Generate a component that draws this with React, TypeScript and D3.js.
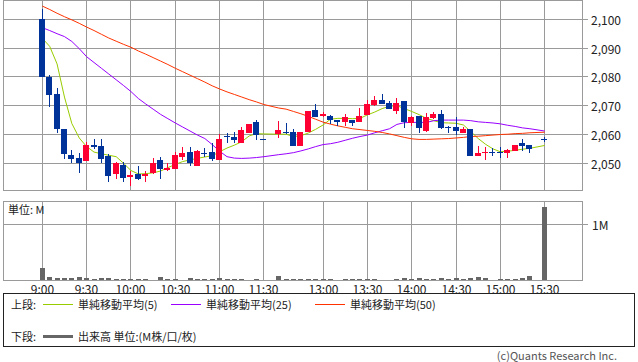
import React from "react";
import * as d3 from "d3";

// ---- data (5-minute candles) ----
const candleTimes = [
  "9:00","9:05","9:10","9:15","9:20","9:25","9:30","9:35","9:40","9:45","9:50","9:55",
  "10:00","10:05","10:10","10:15","10:20","10:25","10:30","10:35","10:40","10:45","10:50","10:55",
  "11:00","11:05","11:10","11:15","11:20","11:25","11:30",
  "12:30","12:35","12:40","12:45","12:50","12:55",
  "13:00","13:05","13:10","13:15","13:20","13:25","13:30","13:35","13:40","13:45","13:50","13:55",
  "14:00","14:05","14:10","14:15","14:20","14:25","14:30","14:35","14:40","14:45","14:50","14:55",
  "15:00","15:05","15:10","15:15","15:20","15:30",
];

const opens = [
  2100,2080,2074.1,2061.9,2052.9,2051.7,2050.9,2056.4,2056,2052.6,2046.4,2049.5,
  2045.3,2046.3,2045.5,2046.6,2051,2047.6,2048,2052.3,2053.9,2049.2,2053.5,2053.9,
  2051.3,2059.6,2059.1,2057.2,2060.6,2064.3,2058.4,
  2060.1,2060.8,2060.8,2056.1,2060.9,2068.5,
  2066.3,2066.4,2065,2064.4,2065,2064.4,2066.8,2070.3,2072,2070.8,2068.2,2071.6,
  2064.1,2066.4,2061.3,2065.8,2067.2,2062.5,2062.5,2060.6,2061.8,2052.6,2053.5,2054,
  2054,2053.7,2054.4,2057.2,2056.2,2058.4,
];
const highs = [
  2103.5,2080.5,2076.3,2061.9,2054.6,2053.5,2057.5,2058.3,2058.3,2053.1,2050.5,2050.6,
  2047.3,2049.2,2047.2,2051.8,2052.3,2050,2053.8,2055.8,2055.7,2054.5,2055.4,2057.2,
  2060.1,2060.6,2060.9,2062.7,2063.8,2064.9,2058.6,
  2064.7,2063.9,2061.8,2060.9,2068.3,2070.6,
  2067.9,2066.6,2065,2067,2065.2,2069.3,2072,2073.3,2074.1,2071.5,2072.6,2071.6,
  2066.5,2066.5,2067.4,2067.8,2068.5,2063,2066,2062.5,2061.8,2056,2055.8,2055.4,
  2055.5,2054.8,2056.2,2058.5,2056.2,2059.2,
];
const lows = [
  2080,2069.7,2060.6,2051.4,2050,2046.7,2050.9,2055,2050,2043.6,2044.7,2043.5,
  2042.2,2044.2,2043.6,2046.3,2044.5,2047.3,2048,2051.1,2049.1,2049,2052.1,2050.9,
  2051,2057,2057,2057,2060.5,2058.1,2058,
  2058.9,2060.1,2056,2056,2060.8,2066,
  2066,2063.5,2063,2063,2063,2064.3,2066.7,2070,2070.6,2068.8,2067.1,2062.4,
  2063,2060.6,2061,2065.5,2061.8,2060.6,2059.8,2060.5,2052.4,2052.5,2051.1,2052.5,
  2051.7,2051.7,2054.4,2054.4,2053.5,2057.5,
];
const closes = [
  2080,2073.7,2061.8,2053.3,2051.4,2050.2,2056.4,2055.8,2051.6,2045.7,2050.2,2044.8,
  2046,2044.6,2046.4,2050,2048.1,2048.4,2052.8,2053.6,2050,2054.4,2053.5,2051.5,
  2058.4,2059.5,2058,2061.6,2063.7,2060,2058.4,
  2061.6,2060.7,2056.1,2060.9,2068.2,2066.2,
  2067.1,2065,2064.3,2066,2063.9,2066.5,2070.5,2072.1,2070.6,2069,2071,2064.2,
  2066.1,2062.4,2066,2067.2,2062.4,2062.5,2061.3,2062,2052.6,2053.7,2054,2053.6,
  2053.6,2054.6,2056.2,2056.1,2055,2058.4,
];

// volume, in millions
const volumes = [
  0.214,0.054,0.036,0.036,0.036,0.054,0.036,0.024,0.036,0.036,0.018,0.018,
  0.018,0.018,0.018,0.006,0.054,0.018,0.018,0.006,0.036,0.018,0.018,0.018,
  0.036,0.018,0.018,0.018,0.006,0.018,0.006,
  0.071,0.024,0.018,0.018,0.018,0.012,
  0.012,0.018,0.006,0.018,0.018,0.018,0.018,0.018,0.006,0.006,0.024,0.036,
  0.018,0.03,0.018,0.018,0.03,0.018,0.03,0.018,0.036,0.054,0.036,0.006,
  0.018,0.018,0.018,0.036,0.071,1.31,
];

// moving averages
const ma5 = [
  2093.4,2090.6,2084.5,2073.0,2063.8,2058.8,2055.8,2053.9,2053.3,2052.8,2052.3,2050.0,
  2047.5,2046.3,2046.4,2046.7,2047.3,2048.5,2049.6,2050.6,2051.2,2051.7,2052.2,2052.6,
  2054.0,2055.3,2056.3,2057.5,2059.5,2060.3,2060.2,
  2060.1,2060.1,2059.3,2059.6,2060.5,2061.8,
  2063.3,2065.3,2065.6,2065.6,2065.5,2065.6,2066.8,2067.8,2069.0,2069.8,2070.0,2069.0,
  2068.0,2066.9,2065.6,2064.8,2064.1,2064.0,2063.9,2063.3,2061.0,2058.6,2056.6,2055.0,
  2054.0,2054.2,2054.5,2054.9,2055.2,2056.2,
];
const ma25 = [
  2097.1,2096.1,2095.0,2094.0,2092.3,2089.8,2087.0,2085.0,2083.0,2081.0,2079.0,2077.0,
  2074.9,2072.5,2070.6,2068.8,2067.0,2065.5,2064.0,2062.6,2061.2,2059.8,2058.6,2056.5,
  2054.2,2052.3,2051.8,2051.7,2051.8,2052.0,2052.3,
  2053.0,2053.3,2053.7,2054.3,2055.0,2055.8,
  2056.5,2056.8,2057.3,2058.0,2058.7,2059.3,2059.8,2060.6,2061.3,2062.0,2063.5,2064.1,
  2064.2,2064.2,2064.2,2064.8,2065.0,2065.0,2065.0,2065.0,2064.8,2064.4,2064.2,2064.0,
  2063.7,2063.2,2062.8,2062.3,2062.0,2061.2,
];
const ma50 = [
  2104.6,2103.4,2102.1,2100.9,2099.8,2098.6,2097.3,2096.1,2094.8,2093.5,2092.4,2091.3,
  2090.3,2089.0,2087.9,2086.7,2085.5,2084.3,2083.0,2081.8,2080.6,2079.4,2078.2,2076.9,
  2075.8,2074.8,2073.9,2073.0,2072.1,2071.3,2070.4,
  2069.2,2068.8,2068.0,2067.2,2066.3,2065.3,
  2064.3,2063.6,2063.0,2062.5,2062.0,2061.7,2061.4,2061.1,2060.7,2060.2,2059.6,2059.0,
  2058.5,2058.3,2058.3,2058.4,2058.5,2058.6,2058.8,2059.0,2059.3,2059.4,2059.6,2059.8,
  2060.0,2060.1,2060.3,2060.4,2060.6,2060.8,
];

const timeTicks = ["9:00","9:30","10:00","10:30","11:00","11:30","13:00","13:30","14:00","14:30","15:00","15:30"];
const priceTicks = [2050, 2060, 2070, 2080, 2090, 2100];
const volumeTicks = [1];

const maSeries = [
  { name: "単純移動平均(5)", values: ma5, color: "#99cc00" },
  { name: "単純移動平均(25)", values: ma25, color: "#9900ff" },
  { name: "単純移動平均(50)", values: ma50, color: "#ff3300" },
];

// ---- category axis of 5-minute slots (with lunch gap) ----
const fmtTime = (m: number) => `${Math.floor(m / 60)}:${String(m % 60).padStart(2, "0")}`;
const slots: string[] = [];
for (let m = 540; m <= 690; m += 5) slots.push(fmtTime(m));
slots.push("lunch");
for (let m = 750; m <= 930; m += 5) slots.push(fmtTime(m));

const FONT = "'Noto Sans CJK JP', 'Noto Sans', sans-serif";
const GRID = "#9a9a9a";
const UP = "#ff0033";
const DOWN = "#003399";

export default function App() {
  const W = 638, H = 362;
  const left = 3.5, right = 582.5;
  const topY0 = 0.5, topY1 = 190.5;
  const volY0 = 201.5, volY1 = 280.5;

  const x = d3.scalePoint<string>().domain(slots).range([42.3, 544.7]);
  const y = d3.scaleLinear().domain([2050, 2100]).range([163.3, 19.3]);
  const yv = d3.scaleLinear().domain([0, 1]).range([280, 224]);
  const fmtPrice = d3.format(",");
  const px = (t: string) => Math.floor(x(t) as number);

  const line = d3
    .line<number>()
    .x((_, i) => x(candleTimes[i]) as number)
    .y((v) => y(v));

  return (
    <svg
      width={W}
      height={H}
      style={{ position: "absolute", left: 0, top: 0, background: "#fff" }}
      fontFamily={FONT}
    >
      <rect x={0} y={0} width={W} height={H} fill="#fff" />
      {/* ---- price panel ---- */}
      <g shapeRendering="crispEdges">
        {timeTicks.map((t) => (
          <line key={"vg" + t} x1={px(t) + 0.5} x2={px(t) + 0.5} y1={topY0} y2={topY1} stroke={GRID} />
        ))}
        {priceTicks.map((p) => {
          const yy = Math.floor(y(p)) + 0.5;
          return <line key={"hg" + p} x1={left} x2={right + 5} y1={yy} y2={yy} stroke={GRID} />;
        })}
        <rect x={left} y={topY0} width={right - left} height={topY1 - topY0} fill="none" stroke={GRID} />
      </g>
      {priceTicks.map((p) => (
        <text key={"pl" + p} x={591} y={Math.floor(y(p)) + 0.5} dominantBaseline="central" fontSize={12} fill="#222">
          {fmtPrice(p)}
        </text>
      ))}

      {/* moving averages */}
      {maSeries.map((s) => (
        <path key={s.name} d={line(s.values) || ""} fill="none" stroke={s.color} strokeWidth={1} />
      ))}

      {/* candles */}
      <g shapeRendering="crispEdges">
        {candleTimes.map((t, i) => {
          const o = opens[i], c = closes[i];
          const color = c > o ? UP : DOWN;
          const cx = px(t);
          const yt = Math.round(y(Math.max(o, c)));
          const yb = Math.round(y(Math.min(o, c)));
          return (
            <g key={"c" + t}>
              <line x1={cx + 0.5} x2={cx + 0.5} y1={Math.round(y(highs[i]))} y2={Math.round(y(lows[i]))} stroke={color} />
              <rect x={cx - 3} y={yt} width={6} height={Math.max(1, yb - yt)} fill={color} />
            </g>
          );
        })}
      </g>

      {/* ---- volume panel ---- */}
      <g shapeRendering="crispEdges">
        {timeTicks.map((t) => (
          <line key={"vvg" + t} x1={px(t) + 0.5} x2={px(t) + 0.5} y1={volY0} y2={volY1} stroke={GRID} />
        ))}
        {volumeTicks.map((v) => (
          <line key={"vhg" + v} x1={left} x2={right + 5} y1={Math.floor(yv(v)) + 0.5} y2={Math.floor(yv(v)) + 0.5} stroke={GRID} />
        ))}
        {candleTimes.map((t, i) => {
          const top = Math.round(yv(volumes[i]));
          return <rect key={"v" + t} x={px(t) - 2} y={top} width={5} height={Math.max(0, 280 - top)} fill="#666" />;
        })}
        <rect x={left} y={volY0} width={right - left} height={volY1 - volY0} fill="none" stroke={GRID} />
      </g>
      {volumeTicks.map((v) => (
        <text key={"vl" + v} x={592} y={Math.floor(yv(v)) + 0.5} dominantBaseline="central" fontSize={12} fill="#222">
          {v}M
        </text>
      ))}
      <text x={8} y={209} dominantBaseline="central" fontSize={11} fill="#222">単位: M</text>

      {/* time labels */}
      {timeTicks.map((t) => (
        <text key={"tl" + t} x={px(t) + 0.5} y={288} textAnchor="middle" dominantBaseline="central" fontSize={12} fill="#222">
          {t}
        </text>
      ))}

      {/* ---- legend ---- */}
      <rect x={3.5} y={293.5} width={631} height={53} fill="none" stroke="#222" shapeRendering="crispEdges" />
      <text x={11} y={304} dominantBaseline="central" fontSize={11} fill="#222">上段:</text>
      {maSeries.map((s, i) => {
        const lx = [43, 171, 315][i];
        return (
          <g key={"lg" + s.name}>
            <line x1={lx} x2={lx + 30} y1={304.5} y2={304.5} stroke={s.color} strokeWidth={1} shapeRendering="crispEdges" />
            <text x={lx + 35} y={304} dominantBaseline="central" fontSize={11} fill="#222">{s.name}</text>
          </g>
        );
      })}
      <text x={11} y={336} dominantBaseline="central" fontSize={11} fill="#222">下段:</text>
      <line x1={43} x2={73} y1={336.5} y2={336.5} stroke="#666" strokeWidth={3} shapeRendering="crispEdges" />
      <text x={78} y={336} dominantBaseline="central" fontSize={11} fill="#222">出来高 単位:(M株/口/枚)</text>

      <text x={617} y={355} textAnchor="end" dominantBaseline="central" fontSize={11} fill="#555">(c)Quants Research Inc.</text>
    </svg>
  );
}
